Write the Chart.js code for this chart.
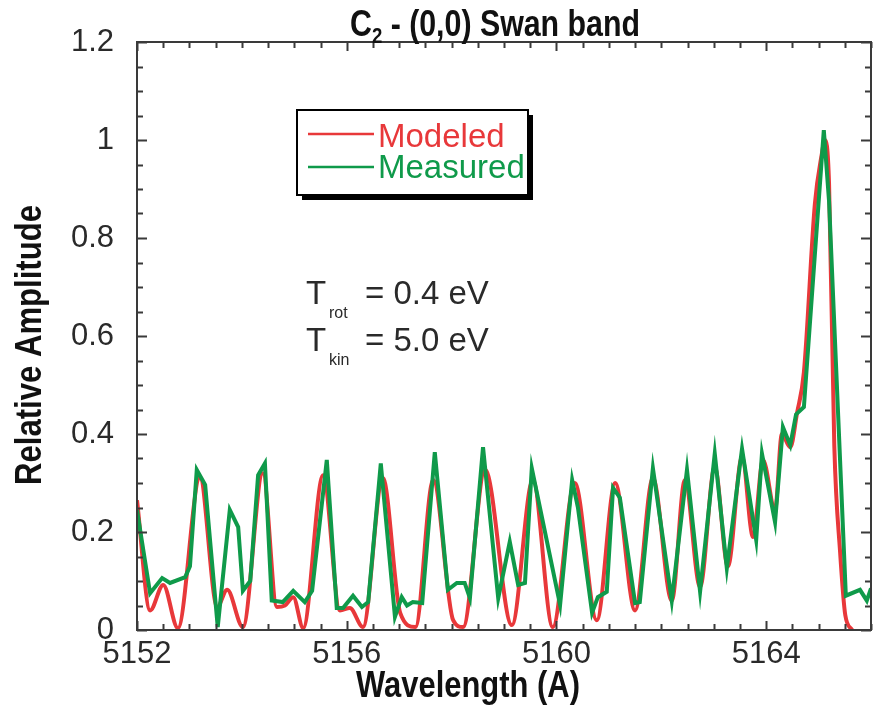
<!DOCTYPE html>
<html>
<head>
<meta charset="utf-8">
<script src="https://cdn.jsdelivr.net/npm/chart.js@4/dist/chart.umd.min.js"></script>
<style>
  html, body { margin: 0; padding: 0; background: #fff; }
</style>
</head>
<body>
<canvas id="swanChart" width="874" height="706"></canvas>
<script>
// C2 (0,0) Swan band
var measuredWl = [5152.00, 5152.25, 5152.48, 5152.63, 5152.92, 5153.01, 5153.14, 5153.30, 5153.54, 5153.77,
  5153.93, 5154.02, 5154.16, 5154.31, 5154.44, 5154.57, 5154.78, 5154.98, 5155.20, 5155.34,
  5155.62, 5155.81, 5155.93, 5156.12, 5156.29, 5156.41, 5156.65, 5156.92, 5157.05, 5157.15,
  5157.26, 5157.44, 5157.68, 5157.93, 5158.10, 5158.25, 5158.35, 5158.60, 5158.89, 5159.11,
  5159.27, 5159.40, 5159.53, 5160.07, 5160.30, 5160.41, 5160.68, 5160.79, 5160.96, 5161.08,
  5161.21, 5161.50, 5161.59, 5161.84, 5162.20, 5162.49, 5162.74, 5163.02, 5163.25, 5163.54,
  5163.81, 5163.92, 5164.17, 5164.32, 5164.46, 5164.57, 5164.72, 5165.10, 5165.20,
  5165.52, 5165.79, 5165.92, 5166.00];
var measuredAmp = [0.245, 0.075, 0.106, 0.096, 0.108, 0.13, 0.327, 0.296, 0.006, 0.245,
  0.21, 0.08, 0.10, 0.316, 0.34, 0.06, 0.057, 0.08, 0.057, 0.08,
  0.347, 0.045, 0.045, 0.07, 0.047, 0.057, 0.34, 0.027, 0.067, 0.05,
  0.057, 0.055, 0.363, 0.082, 0.096, 0.096, 0.065, 0.373, 0.065, 0.18,
  0.092, 0.096, 0.33, 0.051, 0.306, 0.25, 0.035, 0.067, 0.078, 0.29,
  0.27, 0.055, 0.057, 0.33, 0.06, 0.327, 0.078, 0.36, 0.126, 0.37,
  0.184, 0.36, 0.22, 0.414, 0.377, 0.44, 0.455, 1.02, 0.875,
  0.07, 0.082, 0.06, 0.085];

var modeledWl = [5152.00, 5152.25, 5152.50, 5152.78, 5153.20, 5153.53, 5153.72, 5154.02, 5154.40, 5154.67,
  5154.82, 5154.98, 5155.17, 5155.55, 5155.87, 5156.06, 5156.31, 5156.69, 5157.02, 5157.31,
  5157.65, 5158.03, 5158.22, 5158.64, 5159.15, 5159.55, 5159.93, 5160.35, 5160.77, 5161.12,
  5161.50, 5161.84, 5162.20, 5162.45, 5162.74, 5163.02, 5163.27, 5163.54, 5163.75, 5163.94,
  5164.17, 5164.30, 5164.46, 5164.59, 5164.72, 5164.93, 5165.06, 5165.12, 5165.20, 5165.30,
  5165.41, 5165.51, 5165.64];
var modeledAmp = [0.265, 0.04, 0.092, 0.004, 0.31, 0.047, 0.082, 0.006, 0.32, 0.047,
  0.05, 0.067, 0.004, 0.316, 0.04, 0.045, 0.006, 0.31, 0.035, 0.006,
  0.306, 0.02, 0.006, 0.327, 0.01, 0.306, 0.006, 0.30, 0.02, 0.30,
  0.04, 0.31, 0.06, 0.306, 0.088, 0.333, 0.13, 0.353, 0.19, 0.347,
  0.245, 0.40, 0.373, 0.443, 0.526, 0.87, 0.97, 1.0, 0.91, 0.376,
  0.16, 0.03, 0.0];

var xTickLabels = [5152, 5156, 5160, 5164];
var yTickLabels = [0, 0.2, 0.4, 0.6, 0.8, 1, 1.2];
var seriesNames = ['Modeled', 'Measured'];
var tempLines = [['T', 'rot', '= 0.4 eV'], ['T', 'kin', '= 5.0 eV']];

var RED = '#e8383a';
var GREEN = '#0f9a4a';
var AXIS = '#3a3a3a';
var PLAIN = "'Liberation Sans', Arial, sans-serif";

function toPoints(xs, ys) {
  return xs.map(function (x, i) { return { x: x, y: ys[i] }; });
}
function isLabeled(list, v) {
  return list.some(function (t) { return Math.abs(t - v) < 1e-6; });
}
// squeeze text horizontally to look like a condensed bold face
function fitText(ctx, text, x, y, width) {
  var w = ctx.measureText(text).width;
  ctx.save();
  ctx.translate(x, y);
  ctx.scale(width / w, 1);
  ctx.textAlign = 'center';
  ctx.fillText(text, 0, 0);
  ctx.restore();
}

// frame, inward ticks, legend box, titles and temperature notes
var decorations = {
  id: 'decorations',
  afterDraw: function (chart) {
    var ctx = chart.ctx;
    var a = chart.chartArea;
    var xs = chart.scales.x, ys = chart.scales.y;
    ctx.save();

    ctx.strokeStyle = AXIS;
    ctx.lineWidth = 2;
    ctx.beginPath();
    xs.ticks.forEach(function (t) {
      var px = Math.round(xs.getPixelForValue(t.value)) + 0.5;
      var len = isLabeled(xTickLabels, t.value) ? 9 : 6;
      ctx.moveTo(px, a.bottom); ctx.lineTo(px, a.bottom - len);
      ctx.moveTo(px, a.top); ctx.lineTo(px, a.top + len);
    });
    ys.ticks.forEach(function (t) {
      var py = Math.round(ys.getPixelForValue(t.value)) + 0.5;
      var len = isLabeled(yTickLabels, t.value) ? 10 : 6;
      ctx.moveTo(a.left, py); ctx.lineTo(a.left + len, py);
      ctx.moveTo(a.right, py); ctx.lineTo(a.right - len, py);
    });
    ctx.stroke();
    ctx.strokeRect(a.left, a.top, a.right - a.left, a.bottom - a.top);

    // legend box with drop shadow
    var bx = 297, by = 110, bw = 231, bh = 85;
    ctx.fillStyle = '#000';
    ctx.fillRect(bx + 5, by + 5, bw, bh);
    ctx.fillStyle = '#fff';
    ctx.fillRect(bx, by, bw, bh);
    ctx.strokeStyle = '#000';
    ctx.lineWidth = 2;
    ctx.strokeRect(bx, by, bw, bh);
    ctx.font = '33px ' + PLAIN;
    ctx.textBaseline = 'alphabetic';
    ctx.textAlign = 'left';
    chart.data.datasets.forEach(function (ds, i) {
      var ly = 134 + i * 33;
      ctx.strokeStyle = ds.borderColor;
      ctx.lineWidth = 2.5;
      ctx.beginPath();
      ctx.moveTo(308, ly); ctx.lineTo(374, ly);
      ctx.stroke();
      ctx.fillStyle = ds.borderColor;
      ctx.fillText(ds.label, 378, 147 + i * 31);
    });

    // temperatures
    ctx.fillStyle = '#2a2a2a';
    tempLines.forEach(function (ln, i) {
      var base = 304 + i * 47;
      ctx.font = '33px ' + PLAIN;
      ctx.fillText(ln[0], 306, base);
      ctx.font = '16px ' + PLAIN;
      ctx.fillText(ln[1], 329, base + 14);
      ctx.font = '33px ' + PLAIN;
      ctx.fillText(ln[2], 365, base);
    });

    // chart title with subscript, condensed to the reference width
    ctx.fillStyle = '#111';
    var big = 'bold 36px ' + PLAIN, small = 'bold 22px ' + PLAIN;
    ctx.font = big;
    var w1 = ctx.measureText('C').width;
    var w3 = ctx.measureText(' - (0,0) Swan band').width;
    ctx.font = small;
    var w2 = ctx.measureText('2').width;
    var k = 290 / (w1 + w2 + w3);
    ctx.save();
    ctx.translate(495 - 145, 36);
    ctx.scale(k, 1);
    ctx.textAlign = 'left';
    ctx.font = big;
    ctx.fillText('C', 0, 0);
    ctx.font = small;
    ctx.fillText('2', w1, 7);
    ctx.font = big;
    ctx.fillText(' - (0,0) Swan band', w1 + w2, 0);
    ctx.restore();

    // axis titles
    ctx.font = 'bold 36px ' + PLAIN;
    fitText(ctx, 'Wavelength (A)', 468, 697, 224);
    ctx.save();
    ctx.translate(41, 345);
    ctx.rotate(-Math.PI / 2);
    fitText(ctx, 'Relative Amplitude', 0, 0, 280);
    ctx.restore();

    ctx.restore();
  }
};

var ctx1 = document.getElementById('swanChart').getContext('2d');
var swanChart = new Chart(ctx1, {
  type: 'line',
  data: {
    datasets: [{
      label: seriesNames[0],
      data: toPoints(modeledWl, modeledAmp),
      borderColor: RED,
      borderWidth: 4,
      pointRadius: 0,
      cubicInterpolationMode: 'monotone',
      order: 2
    }, {
      label: seriesNames[1],
      data: toPoints(measuredWl, measuredAmp),
      borderColor: GREEN,
      borderWidth: 4,
      pointRadius: 0,
      tension: 0,
      order: 1
    }]
  },
  options: {
    responsive: false,
    animation: false,
    devicePixelRatio: 1,
    layout: { padding: { top: 42, right: 3, left: 0, bottom: 0 } },
    plugins: {
      legend: { display: false },
      title: { display: false },
      tooltip: { enabled: false }
    },
    scales: {
      x: {
        type: 'linear',
        min: 5152,
        max: 5166,
        grid: { display: false },
        border: { display: false },
        ticks: {
          stepSize: 0.5,
          autoSkip: false,
          maxRotation: 0,
          padding: -2,
          color: '#2a2a2a',
          font: { family: PLAIN, size: 31 },
          callback: function (v) { return isLabeled(xTickLabels, v) ? String(Math.round(v)) : ''; }
        },
        afterFit: function (s) { s.height = 76; }
      },
      y: {
        min: 0,
        max: 1.2,
        grid: { display: false },
        border: { display: false },
        ticks: {
          stepSize: 0.05,
          autoSkip: false,
          padding: 15,
          color: '#2a2a2a',
          font: { family: PLAIN, size: 31 },
          callback: function (v) { return isLabeled(yTickLabels, v) ? String(Math.round(v * 10) / 10) : ''; }
        },
        afterFit: function (s) { s.width = 137; }
      }
    }
  },
  plugins: [decorations]
});
</script>
</body>
</html>
